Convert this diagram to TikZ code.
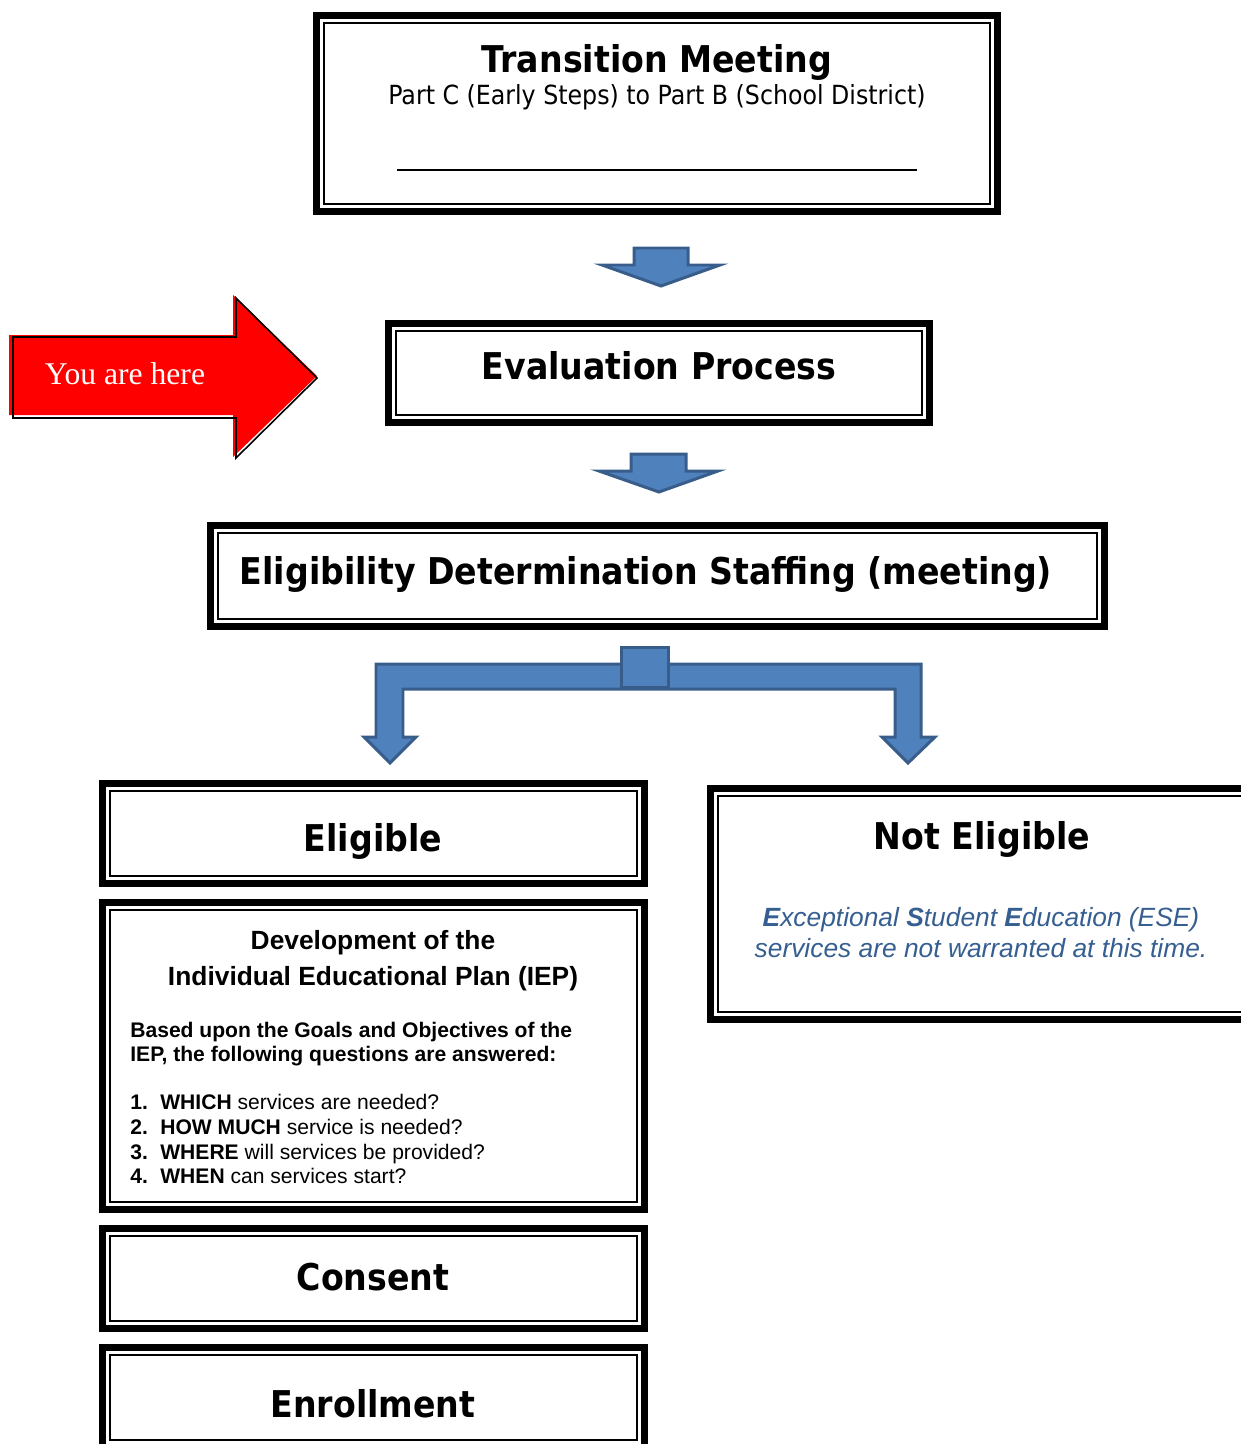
\documentclass[tikz,border=0pt]{standalone}
\usepackage{fontspec}
\setmainfont{Liberation Sans}
\newfontfamily\tah{DejaVu Sans Condensed}[BoldFont={DejaVu Sans Condensed Bold}]
\newfontfamily\tms{Liberation Serif}
\definecolor{arrfill}{RGB}{79,129,189}
\definecolor{arrline}{RGB}{56,93,138}
\definecolor{esetext}{RGB}{54,95,145}
\definecolor{herered}{RGB}{255,0,0}
\newcommand\setfs[1]{\fontsize{#1}{#1}\selectfont}
\newcommand\dblframe[5]{%
  \node[frame, minimum width={(#4-#2-7)*0.02cm}, minimum height={(#5-#3-7)*0.02cm}]
    (#1) at ({(#2+#4)/2},{(#3+#5)/2}) {};
  \draw[thinframe] ([shift={(11,11)}]#1.north west) rectangle ([shift={(-11,-11)}]#1.south east);
}
\tikzset{
  frame/.style={draw=black, fill=white, line width=3.97pt, inner sep=0pt, outer sep=1.985pt},
  thinframe/.style={draw=black, line width=1.0pt},
  blockarrow/.style={fill=arrfill, draw=arrline, line width=1.7pt, line join=miter},
  headtxt/.style={anchor=base, inner sep=0pt, font=\tah\bfseries\setfs{21}},
  bodytxt/.style={anchor=base west, inner sep=0pt, font=\setfs{12}},
  esetxt/.style={anchor=base, inner sep=0pt, text=esetext, font=\itshape\setfs{15}},
}
\begin{document}
\begin{tikzpicture}[x=0.02cm, y=-0.02cm]
\useasboundingbox (0,0) rectangle (1241,1444);
\clip (0,0) rectangle (1241,1444);

% ---------- frames ----------
\dblframe{transition}{313}{12}{1001}{215}
\dblframe{evaluation}{385}{320}{933}{426}
\dblframe{staffing}{207}{522}{1108}{630}
\dblframe{eligible}{99}{780}{648}{887}
\dblframe{iep}{99}{899}{648}{1213}
\dblframe{consent}{99}{1225}{648}{1332}
\dblframe{enroll}{99}{1344}{648}{1451}
\dblframe{noteligible}{707}{785}{1300}{1023}

% ---------- texts ----------
\node[headtxt] (tmtitle) at (657,72) {Transition Meeting};
\node[anchor=base, inner sep=0pt, font=\tah\setfs{15}] (tmsub) at (657,104)
  {Part C (Early Steps) to Part B (School District)};
\coordinate (ulA) at (397,170);
\coordinate (ulB) at (917,170);
\draw[line width=0.6pt] (ulA) -- (ulB);

\node[headtxt] (evaltxt) at (659,379) {Evaluation Process};
\node[headtxt] (stafftxt) at (646,584) {Eligibility Determination Staffing (meeting)};
\node[headtxt] (eligtxt) at (373,851) {Eligible};
\node[headtxt] (noteligtxt) at (982,849) {Not Eligible};
\node[headtxt] (consenttxt) at (373,1290) {Consent};
\node[headtxt] (enrolltxt) at (373,1417) {Enrollment};

\node[anchor=base, inner sep=0pt, font=\bfseries\setfs{15}] (iepA) at (373,949) {Development of the};
\node[anchor=base, inner sep=0pt, font=\bfseries\setfs{15}] (iepB) at (373,985) {Individual Educational Plan (IEP)};
\node[bodytxt, font=\bfseries\setfs{12}] (basedA) at (130,1037) {Based upon the Goals and Objectives of the};
\node[bodytxt, font=\bfseries\setfs{12}] (basedB) at (130,1061) {IEP, the following questions are answered:};
\node[bodytxt] (q1) at (130,1109) {\makebox[0.6cm][l]{\bfseries 1.}\textbf{WHICH} services are needed?};
\node[bodytxt] (q2) at (130,1134) {\makebox[0.6cm][l]{\bfseries 2.}\textbf{HOW MUCH} service is needed?};
\node[bodytxt] (q3) at (130,1159) {\makebox[0.6cm][l]{\bfseries 3.}\textbf{WHERE} will services be provided?};
\node[bodytxt] (q4) at (130,1183) {\makebox[0.6cm][l]{\bfseries 4.}\textbf{WHEN} can services start?};

\node[esetxt] (eseA) at (981,926) {\textbf{E}xceptional \textbf{S}tudent \textbf{E}ducation (ESE)};
\node[esetxt] (eseB) at (981,957) {services are not warranted at this time.};

% ---------- block arrows ----------
\draw[blockarrow] (634,248) -- (688,248) -- (688,265) -- (720,265) -- (661,286)
  -- (602,265) -- (634,265) -- cycle;
\draw[blockarrow] (631,454) -- (686,454) -- (686,471) -- (718,471) -- (659,492)
  -- (599,471) -- (631,471) -- cycle;
\draw[blockarrow] (376,737) -- (376,664) -- (921,664) -- (921,737) -- (935,737)
  -- (908,763) -- (882,737) -- (895,737) -- (895,689) -- (403,689) -- (403,737)
  -- (416,737) -- (390,763) -- (364,737) -- cycle;
\draw[blockarrow] (621,647) rectangle (668,687);

% ---------- you are here ----------
\fill[herered] (9,335) -- (233,335) -- (233,295) -- (317,376) -- (233,457)
  -- (233,415) -- (9,415) -- cycle;
\draw[black, line width=0.9pt, line join=miter] (13,337) -- (236,337) -- (236,298)
  -- (317,378) -- (236,458) -- (236,418) -- (13,418) -- cycle;
\node[anchor=base, inner sep=0pt, text=white, font=\tms\setfs{18}] (here) at (125,384) {You are here};
\end{tikzpicture}
\end{document}
